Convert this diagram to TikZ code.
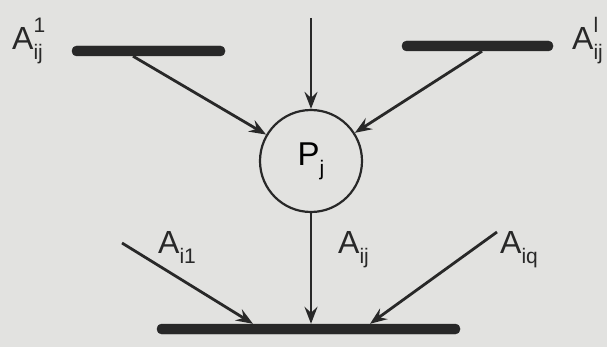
\documentclass[tikz,border=0pt]{standalone}
\usepackage{fontspec}
\setmainfont{Liberation Sans}
\usetikzlibrary{arrows.meta}
\definecolor{ink}{RGB}{40,40,40}
\definecolor{paper}{RGB}{226,226,224}
\newcommand{\subsz}{\fontsize{21}{21}\selectfont}
\newcommand{\labsub}[2]{#1\raisebox{-10pt}{\subsz #2}}
\newcommand{\labsubsup}[3]{#1\rlap{\raisebox{17pt}{\subsz #3}}\raisebox{-10pt}{\subsz #2}}
\begin{document}
\begin{tikzpicture}[x=1pt,y=-1pt,
  bar/.style={draw=ink,fill=ink,rounded corners=4.5pt,minimum height=10pt,inner sep=0pt},
  proc/.style={circle,draw=ink,line width=2.2pt,minimum size=102pt,inner sep=0pt,
    font=\fontsize{33}{35}\selectfont},
  arr/.style={draw=ink,line width=2.8pt,-{Stealth[length=17pt,width=13pt,inset=6pt]}},
  lab/.style={anchor=base west,inner sep=0pt,text=ink,font=\fontsize{32}{34}\selectfont}]
\fill[paper] (0,0) rectangle (607,347);
\useasboundingbox (0,0) rectangle (607,347);
% bars
\node[bar,minimum width=153pt] (barL) at (148.5,51) {};
\node[bar,minimum width=151pt] (barR) at (477.5,46) {};
\node[bar,minimum width=303pt] (barB) at (308.5,329) {};
% process circle
\node[proc] (P) at (311,161) {\labsub{P}{j}};
% free ends
\coordinate (top) at (311,18);
\coordinate (inL) at (122,243);
\coordinate (inR) at (497,232);
% connectors
\draw[arr] ([xshift=-15.5pt]barL.south) -- (P);
\draw[arr] ([xshift=4.5pt]barR.south) -- (P);
\draw[arr] (top) -- (P.north);
\draw[arr] (P.south) -- (P.south |- barB.north);
\draw[arr] (inL) -- ([xshift=-55.5pt]barB.north);
\draw[arr] (inR) -- ([xshift=61.5pt]barB.north);
% labels
\node[lab] (lA1) at (12,50) {\labsubsup{A}{ij}{1}};
\node[lab] (lAl) at (572,50) {\labsubsup{A}{ij}{l}};
\node[lab] (lAi1) at (158,253) {\labsub{A}{i1}};
\node[lab] (lAij) at (338,253) {\labsub{A}{ij}};
\node[lab] (lAiq) at (500,253) {\labsub{A}{iq}};
\end{tikzpicture}
\end{document}
